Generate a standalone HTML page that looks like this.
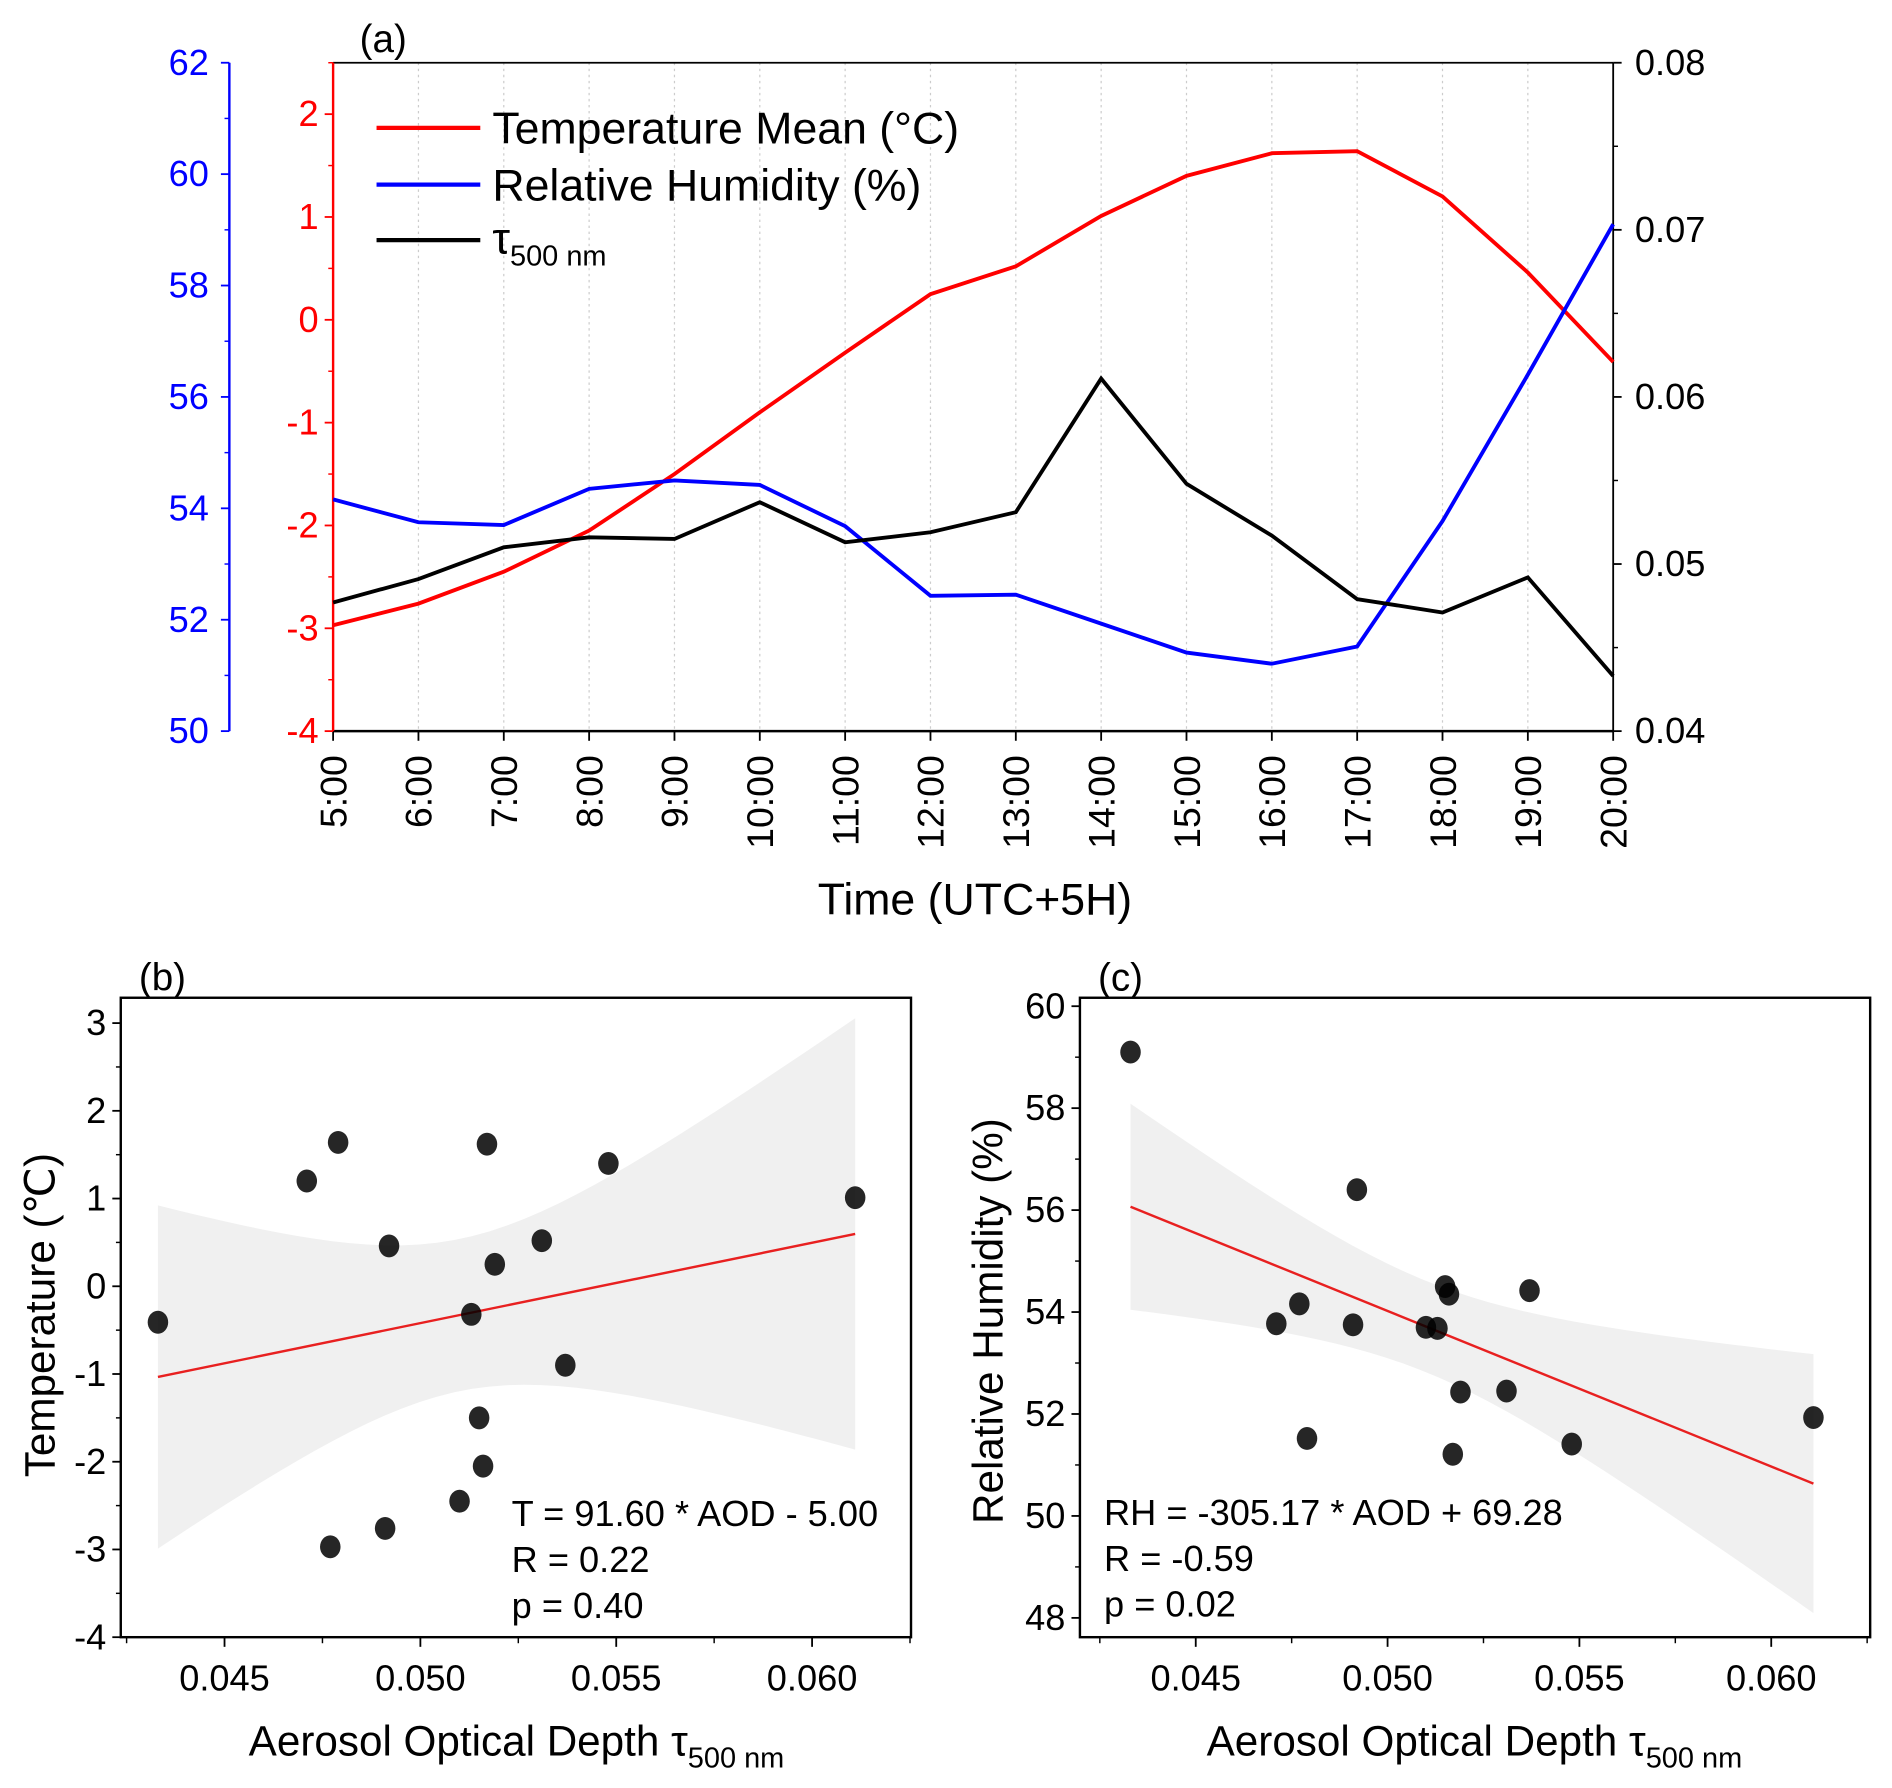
<!DOCTYPE html>
<html><head><meta charset="utf-8"><style>
html,body{margin:0;padding:0;background:#fff}
svg{display:block}
text{font-family:"Liberation Sans",sans-serif}
</style></head><body>
<svg id="fig" xmlns="http://www.w3.org/2000/svg" width="1892" height="1788" viewBox="0 0 1568 1482"></svg>
<script>
const hours = ["5:00","6:00","7:00","8:00","9:00","10:00","11:00","12:00","13:00","14:00","15:00","16:00","17:00","18:00","19:00","20:00"];
const tempMean = [-2.97,-2.76,-2.45,-2.05,-1.5,-0.9,-0.32,0.25,0.52,1.01,1.4,1.62,1.64,1.2,0.46,-0.41];
const relHum = [54.16,53.75,53.7,54.35,54.5,54.42,53.68,52.43,52.45,51.93,51.41,51.21,51.52,53.77,56.4,59.1];
const aod = [0.0477,0.0491,0.0510,0.0516,0.0515,0.0537,0.0513,0.0519,0.0531,0.0611,0.0548,0.0517,0.0479,0.0471,0.0492,0.0433];
const tempTicks = [-4,-3,-2,-1,0,1,2];
const rhTicks = [50,52,54,56,58,60,62];
const aodTicks = [0.04,0.05,0.06,0.07,0.08];
const scatterXTicks = [0.045,0.050,0.055,0.060];
const bTicks = [-4,-3,-2,-1,0,1,2,3];
const cTicks = [48,50,52,54,56,58,60];
const fitT = [91.60,-5.00];
const fitRH = [-305.17,69.28];

const NS="http://www.w3.org/2000/svg";
const svg=document.getElementById('fig');
function el(tag,attrs,parent,txt){const e=document.createElementNS(NS,tag);for(const k in attrs)e.setAttribute(k,attrs[k]);if(txt!==undefined)e.textContent=txt;(parent||svg).appendChild(e);return e;}
function lin(d0,d1,r0,r1){return v=>r0+(v-d0)/(d1-d0)*(r1-r0);}

const TF=30;
// ---------- Panel (a)
const gA=el('g',{});


const X0=276,X1=1337,YT=52,YB=606;
const xa=i=>X0+i*(X1-X0)/(hours.length-1);
const yT=lin(-4,2.5,YB,YT), yRH=lin(50,62,YB,YT), yA=lin(0.04,0.08,YB,YT);
hours.forEach((h,i)=>{ if(i>0&&i<hours.length-1){const g=el('line',{x1:xa(i),x2:xa(i),y1:YT,y2:YB,stroke:'#ccc','stroke-width':1,'stroke-dasharray':'2,3'},gA);

}});
el('line',{x1:X0,x2:X1,y1:YT,y2:YT,stroke:'#000','stroke-width':1.5},gA);
el('line',{x1:X0,x2:X1,y1:YB,y2:YB,stroke:'#000','stroke-width':2},gA);
el('line',{x1:X1,x2:X1,y1:YT,y2:YB,stroke:'#000','stroke-width':1.5},gA);
el('line',{x1:X0,x2:X0,y1:YT,y2:YB,stroke:'red','stroke-width':2},gA);
el('line',{x1:190,x2:190,y1:YT,y2:YB,stroke:'blue','stroke-width':2},gA);
hours.forEach((h,i)=>{el('line',{x1:xa(i),x2:xa(i),y1:YB,y2:YB+8,stroke:'#000','stroke-width':1.5},gA);
const t=el('text',{x:0,y:0,transform:`translate(${xa(i)+11},${YB+20}) rotate(-90)`,'text-anchor':'end','font-size':31},gA,h);

});
const xt=el('text',{x:808,y:758,'text-anchor':'middle','font-size':37},gA,'Time (UTC+5H)');


tempTicks.forEach(v=>{el('line',{x1:X0-7,x2:X0,y1:yT(v),y2:yT(v),stroke:'red','stroke-width':1.5},gA);
el('line',{x1:X0-4,x2:X0,y1:yT(v+0.5),y2:yT(v+0.5),stroke:'red','stroke-width':1.2},gA);
const t=el('text',{x:X0-12,y:yT(v)+10,'text-anchor':'end','font-size':TF,fill:'red'},gA,String(v));

});
rhTicks.forEach(v=>{el('line',{x1:183,x2:190,y1:yRH(v),y2:yRH(v),stroke:'blue','stroke-width':1.5},gA);
if(v<62)el('line',{x1:186,x2:190,y1:yRH(v+1),y2:yRH(v+1),stroke:'blue','stroke-width':1.2},gA);
const t=el('text',{x:173,y:yRH(v)+10,'text-anchor':'end','font-size':TF,fill:'blue'},gA,String(v));

});
aodTicks.forEach(v=>{el('line',{x1:X1,x2:X1+7,y1:yA(v),y2:yA(v),stroke:'#000','stroke-width':1.5},gA);
if(v<0.08)el('line',{x1:X1,x2:X1+4,y1:yA(v+0.005),y2:yA(v+0.005),stroke:'#000','stroke-width':1.2},gA);
const t=el('text',{x:X1+18,y:yA(v)+10,'font-size':TF},gA,v.toFixed(2));

});
function poly(vals,sc,col,name){const p=el('polyline',{points:vals.map((v,i)=>xa(i)+','+sc(v)).join(' '),fill:'none',stroke:col,'stroke-width':3.2},gA);

}
poly(tempMean,yT,'red','temperature-line');
poly(relHum,yRH,'blue','humidity-line');
poly(aod,yA,'#000','aod-line');
const pa=el('text',{x:298,y:43,'font-size':32},gA,'(a)');


const lg=el('g',{},gA);


[['red','Temperature Mean (°C)',106],['blue','Relative Humidity (%)',153]].forEach(([c,t,y])=>{
el('line',{x1:312,x2:398,y1:y,y2:y,stroke:c,'stroke-width':3.5},lg);
const tx=el('text',{x:408,y:y+13,'font-size':37},lg,t);

});
el('line',{x1:312,x2:398,y1:199,y2:199,stroke:'#000','stroke-width':3.5},lg);
const lt=el('text',{x:408,y:210,'font-size':37},lg);


lt.innerHTML='τ<tspan font-size="24" dy="10">500 nm</tspan>';

// ---------- scatter panels
function scatter(o){
 const g=el('g',{});
 
 
 const xs=lin(0.045,0.060,o.x045,o.x060), ys=lin(o.yd0,o.yd1,o.yr0,o.yr1);
 const n=aod.length, mx=aod.reduce((a,b)=>a+b)/n;
 const sxx=aod.reduce((a,b)=>a+(b-mx)**2,0);
 const res=aod.reduce((a,x,i)=>a+(o.yv[i]-(o.fit[0]*x+o.fit[1]))**2,0);
 const s=Math.sqrt(res/(n-2)), tc=2.145;
 const xmin=Math.min(...aod), xmax=Math.max(...aod);
 const up=[],lo=[];
 for(let k=0;k<=40;k++){const x=xmin+(xmax-xmin)*k/40, yh=o.fit[0]*x+o.fit[1], se=tc*s*Math.sqrt(1/n+(x-mx)**2/sxx);
  up.push(xs(x)+','+ys(yh+se)); lo.unshift(xs(x)+','+ys(yh-se));}
 const band=el('polygon',{points:up.concat(lo).join(' '),fill:'#f0f0f0'},g);
 
 
 el('rect',{x:o.L,y:o.T,width:o.R-o.L,height:o.B-o.T,fill:'none',stroke:'#000','stroke-width':2},g);
 const fl=el('line',{x1:xs(xmin),y1:ys(o.fit[0]*xmin+o.fit[1]),x2:xs(xmax),y2:ys(o.fit[0]*xmax+o.fit[1]),stroke:'#e82020','stroke-width':2},g);
 
 
 aod.forEach((x,i)=>{const c=el('ellipse',{cx:xs(x),cy:ys(o.yv[i]),rx:8.5,ry:9.5,fill:'#000','fill-opacity':0.85},g);
 
 });
 scatterXTicks.forEach(v=>{el('line',{x1:xs(v),x2:xs(v),y1:o.B,y2:o.B+8,stroke:'#000','stroke-width':1.5},g);
 el('line',{x1:xs(v-0.0025),x2:xs(v-0.0025),y1:o.B,y2:o.B+5,stroke:'#000','stroke-width':1.2},g);
 const t=el('text',{x:xs(v),y:o.B+44,'text-anchor':'middle','font-size':TF},g,v.toFixed(3));
 
 });
 el('line',{x1:xs(0.0625),x2:xs(0.0625),y1:o.B,y2:o.B+5,stroke:'#000','stroke-width':1.2},g);
 o.ticks.forEach((v,k)=>{el('line',{x1:o.L-7,x2:o.L,y1:ys(v),y2:ys(v),stroke:'#000','stroke-width':1.5},g);
 if(k<o.ticks.length-1)el('line',{x1:o.L-4,x2:o.L,y1:ys(v+o.minor),y2:ys(v+o.minor),stroke:'#000','stroke-width':1.2},g);
 const t=el('text',{x:o.L-12,y:ys(v)+10,'text-anchor':'end','font-size':TF},g,String(v));
 
 });
 const xt=el('text',{x:o.xtx,y:1455,'text-anchor':'middle','font-size':35},g);
 
 
 xt.innerHTML='Aerosol Optical Depth τ<tspan font-size="24" dy="10">500 nm</tspan>';
 const yt=el('text',{x:0,y:0,transform:`translate(${o.ytx},${o.ytc}) rotate(-90)`,'text-anchor':'middle','font-size':35},g,o.ytitle);
 
 
 const pl=el('text',{x:o.L+15,y:o.T-6,'font-size':32},g,o.label);
 
 
 o.ann.forEach((a,k)=>{const t=el('text',{x:o.annx,y:o.anny+k*38,'font-size':30},g,a);
 
 });
}
scatter({name:'panel-b',L:100,R:755,T:827,B:1357,x045:186,x060:673,yd0:-4,yd1:3,yr0:1357,yr1:848,yv:tempMean,fit:fitT,ticks:bTicks,minor:0.5,
 xtx:428,ytx:45,ytc:1090,ytitle:'Temperature (℃)',label:'(b)',annx:424,anny:1265,
 ann:['T = '+fitT[0].toFixed(2)+' * AOD - '+Math.abs(fitT[1]).toFixed(2),'R = 0.22','p = 0.40']});
scatter({name:'panel-c',L:895,R:1550,T:827,B:1357,x045:991,x060:1468,yd0:48,yd1:60,yr0:1341,yr1:834,yv:relHum,fit:fitRH,ticks:cTicks,minor:1,
 xtx:1222,ytx:831,ytc:1095,ytitle:'Relative Humidity (%)',label:'(c)',annx:915,anny:1264,
 ann:['RH = '+fitRH[0].toFixed(2)+' * AOD + '+fitRH[1].toFixed(2),'R = -0.59','p = 0.02']});
</script>
</body></html>
